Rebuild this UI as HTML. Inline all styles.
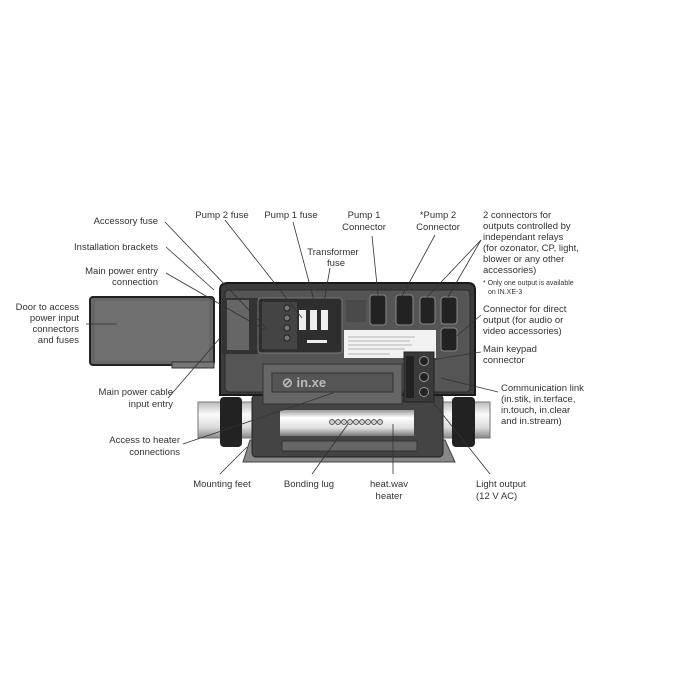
<!DOCTYPE html>
<html><head><meta charset="utf-8"><style>
html,body{margin:0;padding:0;background:#fff;width:700px;height:700px;overflow:hidden}
svg text{font-family:"Liberation Sans",sans-serif;font-size:9.5px;fill:#333}
</style></head><body>
<svg width="700" height="700" viewBox="0 0 700 700" xmlns="http://www.w3.org/2000/svg">
<defs>
<linearGradient id="pipe" x1="0" y1="0" x2="0" y2="1"><stop offset="0" stop-color="#bbb"/><stop offset=".35" stop-color="#fafafa"/><stop offset=".7" stop-color="#ddd"/><stop offset="1" stop-color="#888"/></linearGradient>
<linearGradient id="tube" x1="0" y1="0" x2="0" y2="1"><stop offset="0" stop-color="#999"/><stop offset=".3" stop-color="#fff"/><stop offset=".7" stop-color="#ddd"/><stop offset="1" stop-color="#777"/></linearGradient>
</defs>
<!-- pipe -->
<rect x="198" y="402" width="292" height="36" fill="url(#pipe)" stroke="#777"/>
<!-- base feet -->
<polygon points="250,440 445,440 455,462 243,462" fill="#888" stroke="#444"/>
<!-- lower body -->
<rect x="252" y="395" width="191" height="62" rx="4" fill="#444" stroke="#222"/>
<rect x="280" y="410" width="134" height="26" fill="url(#tube)"/>
<rect x="282" y="441" width="135" height="10" fill="#666" stroke="#333"/>
<g fill="#ccc" stroke="#333" stroke-width=".7">
<circle cx="332" cy="422" r="2.5"/><circle cx="338" cy="422" r="2.5"/><circle cx="344" cy="422" r="2.5"/><circle cx="350" cy="422" r="2.5"/><circle cx="356" cy="422" r="2.5"/><circle cx="362" cy="422" r="2.5"/><circle cx="368" cy="422" r="2.5"/><circle cx="374" cy="422" r="2.5"/><circle cx="380" cy="422" r="2.5"/></g>
<!-- caps -->
<rect x="220" y="397" width="22" height="50" rx="4" fill="#222"/>
<rect x="452" y="397" width="23" height="50" rx="4" fill="#222"/>
<!-- door -->
<rect x="90" y="297" width="124" height="68" rx="3" fill="#666" stroke="#222" stroke-width="2"/>
<rect x="95" y="301" width="114" height="60" fill="#707070"/>
<rect x="172" y="362" width="42" height="6" fill="#777" stroke="#333"/>
<!-- main body -->
<path d="M220,290 Q220,283 228,283 L468,283 Q475,283 475,290 L475,395 L220,395 Z" fill="#3c3c3c" stroke="#1a1a1a" stroke-width="2"/>
<rect x="225" y="290" width="245" height="102" rx="4" fill="#555" stroke="#2a2a2a"/>
<rect x="222" y="298" width="36" height="56" fill="#333"/>
<rect x="227" y="300" width="22" height="50" fill="#666"/>
<rect x="258" y="298" width="84" height="55" rx="3" fill="#2e2e2e" stroke="#777"/>
<rect x="262" y="302" width="35" height="47" fill="#444"/>
<g fill="#eee"><rect x="299" y="310" width="7" height="20"/><rect x="310" y="310" width="7" height="20"/><rect x="321" y="310" width="7" height="20"/><rect x="307" y="340" width="20" height="3"/></g>
<g fill="#777" stroke="#222"><circle cx="287" cy="308" r="3"/><circle cx="287" cy="318" r="3"/><circle cx="287" cy="328" r="3"/><circle cx="287" cy="338" r="3"/></g>
<rect x="346" y="300" width="20" height="22" fill="#4a4a4a"/>
<!-- connectors -->
<g fill="#222" stroke="#888">
<rect x="370" y="295" width="16" height="30" rx="3"/><rect x="396" y="295" width="17" height="30" rx="3"/>
<rect x="420" y="297" width="15" height="27" rx="3"/><rect x="441" y="297" width="16" height="27" rx="3"/>
<rect x="441" y="328" width="16" height="23" rx="3"/></g>
<rect x="344" y="330" width="92" height="28" fill="#f2f2f2"/>
<g stroke="#777" stroke-width=".6"><line x1="348" y1="337" x2="415" y2="337"/><line x1="348" y1="341" x2="410" y2="341"/><line x1="348" y1="345" x2="412" y2="345"/><line x1="348" y1="349" x2="405" y2="349"/><line x1="348" y1="354" x2="390" y2="354"/></g>
<rect x="404" y="352" width="30" height="50" fill="#3a3a3a" stroke="#222"/>
<rect x="406" y="356" width="8" height="42" fill="#222"/>
<g fill="#222" stroke="#999"><circle cx="424" cy="361" r="4.5"/><circle cx="424" cy="377" r="4.5"/><circle cx="424" cy="392" r="4.5"/></g>
<rect x="263" y="364" width="139" height="40" fill="#666" stroke="#333"/>
<rect x="272" y="373" width="121" height="19" fill="#555" stroke="#333"/>
<text x="282" y="387" style="font-size:13px;fill:#bbb;font-weight:bold">⊘ in.xe</text>
<!-- leader lines -->
<g stroke="#333" stroke-width=".8" fill="none">
<line x1="165" y1="222" x2="268" y2="330"/>
<line x1="166" y1="247" x2="214" y2="290"/>
<line x1="166" y1="273" x2="265" y2="330"/>
<line x1="86" y1="324" x2="117" y2="324"/>
<line x1="168" y1="398" x2="220" y2="338"/>
<line x1="225" y1="220" x2="302" y2="318"/>
<line x1="293" y1="222" x2="316" y2="308"/>
<line x1="330" y1="268" x2="323" y2="308"/>
<line x1="372" y1="236" x2="378" y2="295"/>
<line x1="435" y1="235" x2="402" y2="296"/>
<line x1="481" y1="240" x2="427" y2="297"/>
<line x1="481" y1="240" x2="448" y2="297"/>
<line x1="481" y1="315" x2="457" y2="336"/>
<line x1="481" y1="352" x2="431" y2="360"/>
<line x1="498" y1="392" x2="441" y2="378"/>
<line x1="490" y1="474" x2="424" y2="391"/>
<line x1="183" y1="444" x2="333" y2="393"/>
<line x1="220" y1="474" x2="247" y2="447"/>
<line x1="312" y1="474" x2="348" y2="424"/>
<line x1="393" y1="474" x2="393" y2="424"/>
</g>
<!-- labels -->
<g text-anchor="end">
<text x="158" y="224">Accessory fuse</text>
<text x="158" y="250">Installation brackets</text>
<text x="158" y="274">Main power entry</text><text x="158" y="285">connection</text>
<text x="79" y="310">Door to access</text><text x="79" y="321">power input</text><text x="79" y="332">connectors</text><text x="79" y="343">and fuses</text>
<text x="173" y="395">Main power cable</text><text x="173" y="407">input entry</text>
<text x="180" y="443">Access to heater</text><text x="180" y="455">connections</text>
</g>
<g text-anchor="middle">
<text x="222" y="218">Pump 2 fuse</text>
<text x="291" y="218">Pump 1 fuse</text>
<text x="364" y="218">Pump 1</text><text x="364" y="230">Connector</text>
<text x="438" y="218">*Pump 2</text><text x="438" y="230">Connector</text>
<text x="333" y="255">Transformer</text><text x="336" y="266">fuse</text>
<text x="222" y="487">Mounting feet</text>
<text x="309" y="487">Bonding lug</text>
<text x="389" y="487">heat.wav</text><text x="389" y="499">heater</text>
</g>
<g>
<text x="483" y="218">2 connectors for</text>
<text x="483" y="229">outputs controlled by</text>
<text x="483" y="240">independant relays</text>
<text x="483" y="251">(for ozonator, CP, light,</text>
<text x="483" y="262">blower or any other</text>
<text x="483" y="273">accessories)</text>
<text x="483" y="285" style="font-size:7px">* Only one output is available</text>
<text x="488" y="294" style="font-size:7px">on IN.XE-3</text>
<text x="483" y="312">Connector for direct</text>
<text x="483" y="323">output (for audio or</text>
<text x="483" y="334">video accessories)</text>
<text x="483" y="352">Main keypad</text>
<text x="483" y="363">connector</text>
<text x="501" y="391">Communication link</text>
<text x="501" y="402">(in.stik, in.terface,</text>
<text x="501" y="413">in.touch, in.clear</text>
<text x="501" y="424">and in.stream)</text>
<text x="476" y="487">Light output</text>
<text x="476" y="499">(12 V AC)</text>
</g>
</svg>
</body></html>
